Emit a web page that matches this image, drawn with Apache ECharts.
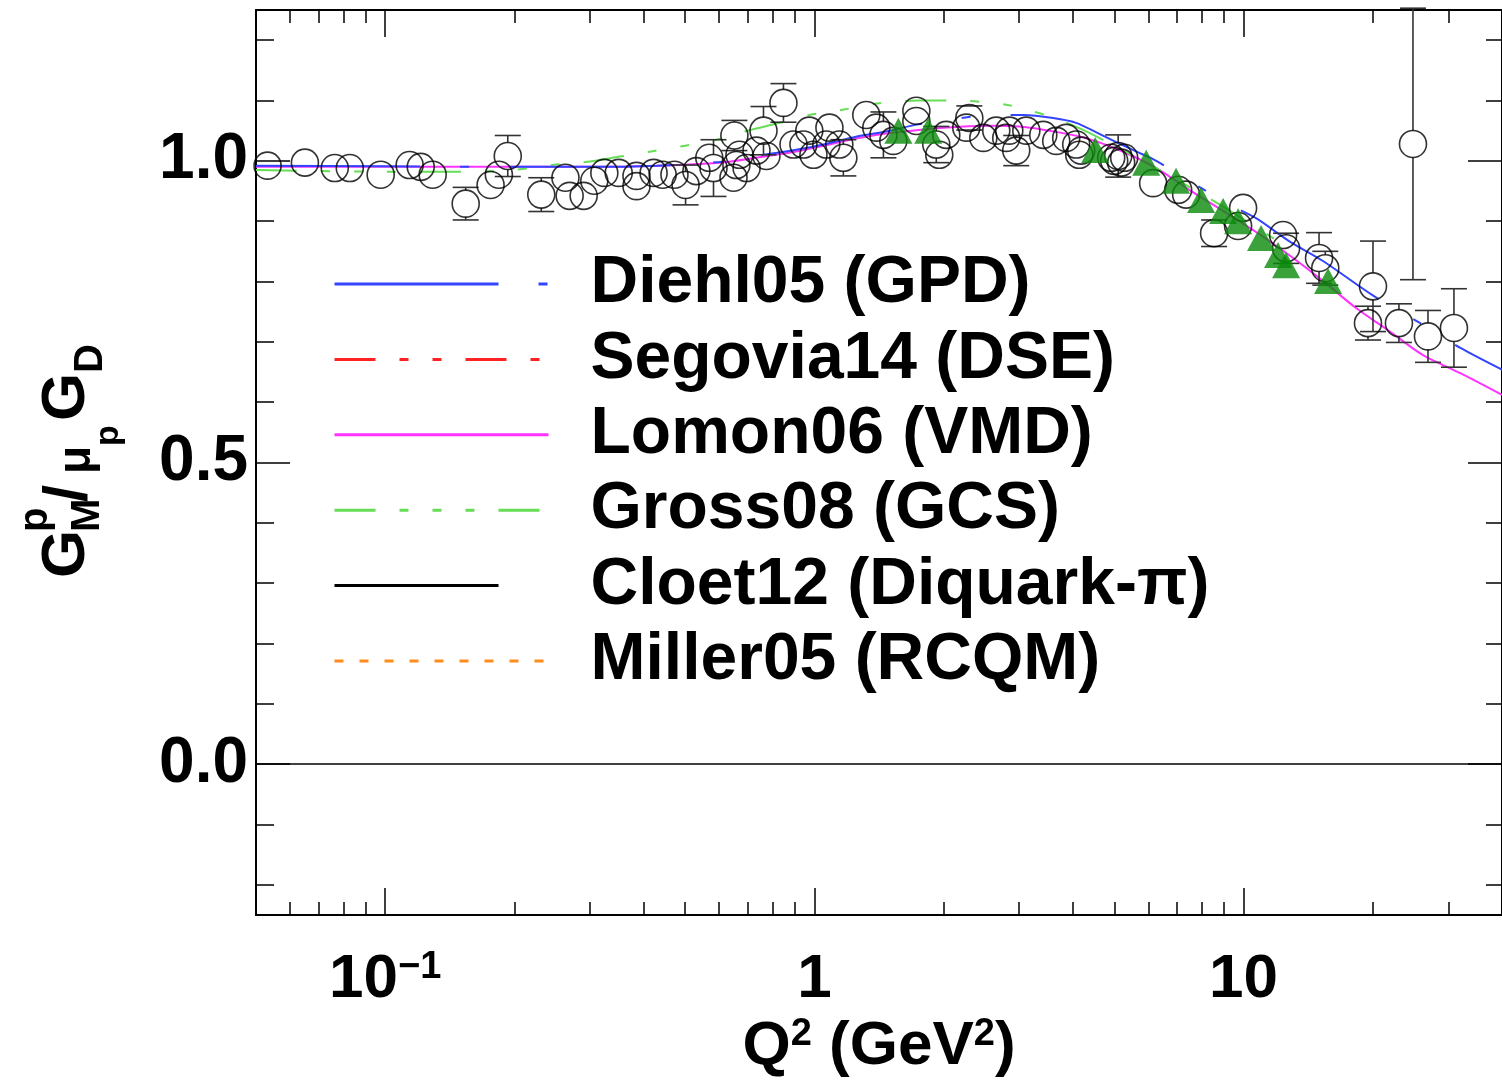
<!DOCTYPE html>
<html>
<head>
<meta charset="utf-8">
<script src="https://cdn.jsdelivr.net/npm/echarts@6/dist/echarts.min.js"></script>
<style>
  html, body { margin: 0; padding: 0; background: #fff; }
  #main { width: 1502px; height: 1089px; }
</style>
</head>
<body>
<div id="main"></div>
<script>
// proton magnetic form factor ratio GMp / (mu_p GD) vs Q^2 (GeV^2)

// world data (open circles)
const circleQ2 = [
  0.0532, 0.065, 0.0763, 0.0827, 0.0976, 0.114, 0.121, 0.129, 0.154, 0.176,
  0.184, 0.193, 0.231, 0.263, 0.269, 0.29, 0.307, 0.324, 0.35, 0.385,
  0.385, 0.422, 0.443, 0.472, 0.501, 0.531, 0.569, 0.582, 0.648, 0.651,
  0.658, 0.669, 0.695, 0.733, 0.761, 0.773, 0.847, 0.894, 0.943, 0.973,
  0.995, 1.066, 1.084, 1.143, 1.168, 1.321, 1.394, 1.448, 1.527, 1.728,
  1.728, 1.923, 1.954, 2.029, 2.259, 2.296, 2.475, 2.653, 2.799, 2.845,
  2.953, 3.117, 3.414, 3.66, 3.861, 4.074, 4.185, 4.14, 4.995, 5.103,
  6.155, 7.039, 7.347, 8.536, 9.71, 9.973, 12.36, 12.56, 14.99, 15.5,
  19.49, 20.02, 23.01, 24.81, 26.89, 30.91, 4.915, 5.185, 5.27
];
const circleRatio = [
  0.992, 0.997, 0.988, 0.988, 0.977, 0.993, 0.990, 0.977, 0.929, 0.960,
  0.977, 1.008, 0.944, 0.972, 0.942, 0.942, 0.967, 0.980, 0.980, 0.975,
  0.958, 0.980, 0.977, 0.977, 0.960, 0.983, 1.005, 0.988, 0.972, 1.042,
  0.993, 1.010, 0.988, 1.017, 1.050, 1.008, 1.096, 1.027, 1.027, 1.050,
  1.010, 1.027, 1.055, 1.027, 1.005, 1.076, 1.055, 1.043, 1.033, 1.083,
  1.066, 1.027, 1.010, 1.043, 1.055, 1.071, 1.038, 1.050, 1.038, 1.050,
  1.017, 1.050, 1.043, 1.033, 1.038, 1.027, 1.017, 1.010, 1.000, 1.008,
  0.963, 0.952, 0.944, 0.880, 0.892, 0.922, 0.877, 0.855, 0.839, 0.822,
  0.731, 0.792, 0.731, 1.028, 0.709, 0.723, 1.005, 0.997, 1.005
];
const circleErr = [
  0, 0, 0, 0, 0, 0, 0, 0, 0.027, 0,
  0, 0.034, 0.028, 0, 0, 0, 0, 0, 0, 0,
  0, 0, 0, 0, 0.033, 0, 0, 0.047, 0, 0.025,
  0, 0, 0, 0, 0.04, 0, 0.032, 0, 0, 0,
  0, 0, 0, 0, 0.03, 0, 0, 0.038, 0, 0,
  0, 0.03, 0, 0, 0, 0.02, 0, 0, 0, 0,
  0.025, 0, 0, 0, 0, 0, 0, 0, 0, 0.035,
  0, 0, 0, 0.022, 0, 0, 0, 0.025, 0.042, 0.028,
  0.028, 0.075, 0.032, 0.225, 0.043, 0.065, 0, 0, 0
];

// green triangles
const triQ2 = [1.569, 1.842, 4.51, 5.93, 6.96, 7.96, 8.96, 9.71, 10.98, 12.03, 12.56, 15.73];
const triRatio = [1.050, 1.050, 1.018, 0.997, 0.967, 0.935, 0.917, 0.900, 0.872, 0.844, 0.827, 0.801];

// model curves
const diehlQ2 = [0.05, 0.1, 0.2, 0.3, 0.43, 0.6, 0.73, 0.9, 1.05, 1.25, 1.5, 1.73, 2.14, 2.6, 3.07, 3.6, 4.07, 4.6, 5.05, 5.6, 6.26, 7.2, 8.18, 9.3, 10.69, 12.76, 15.31, 20, 26.2, 32, 40];
const diehlRatio = [0.992, 0.991, 0.990, 0.990, 0.992, 0.998, 1.008, 1.018, 1.027, 1.040, 1.050, 1.060, 1.070, 1.076, 1.076, 1.071, 1.063, 1.045, 1.031, 1.016, 1.000, 0.973, 0.950, 0.927, 0.905, 0.867, 0.834, 0.777, 0.728, 0.690, 0.654];
const lomonQ2 = [0.05, 0.1, 0.2, 0.3, 0.43, 0.6, 0.73, 0.9, 1.05, 1.25, 1.5, 2.0, 2.6, 3.0, 3.66, 4.37, 5.24, 6.26, 7.47, 8.96, 10.69, 12.76, 15.31, 18.28, 21.83, 26.18, 32, 40];
const lomonRatio = [0.990, 0.990, 0.990, 0.990, 0.992, 0.997, 1.005, 1.015, 1.025, 1.037, 1.046, 1.055, 1.058, 1.057, 1.048, 1.036, 1.015, 0.988, 0.952, 0.917, 0.882, 0.844, 0.801, 0.756, 0.718, 0.678, 0.648, 0.612];
const grossQ2 = [0.05, 0.1, 0.15, 0.2, 0.245, 0.293, 0.352, 0.42, 0.5, 0.59, 0.7, 0.83, 0.96, 1.17, 1.4, 1.75, 2.14, 2.8, 3.11, 3.6, 4.2, 5.0, 6.0, 7.0, 8.0, 10, 12];
const grossRatio = [0.985, 0.982, 0.982, 0.985, 0.993, 0.998, 1.007, 1.016, 1.025, 1.035, 1.050, 1.063, 1.075, 1.085, 1.095, 1.100, 1.100, 1.093, 1.085, 1.072, 1.052, 1.025, 0.995, 0.968, 0.945, 0.903, 0.867];

const legendNames = ['Diehl05 (GPD)', 'Segovia14 (DSE)', 'Lomon06 (VMD)', 'Gross08 (GCS)', 'Cloet12 (Diquark-\u03c0)', 'Miller05 (RCQM)'];

// ticks
const xMajorTicks = [0.1, 1, 10];
const xTickText = ['{b|10}{s|\u22121}', '{b|1}', '{b|10}'];
const xMinorTicks = [0.06, 0.07, 0.08, 0.09, 0.2, 0.3, 0.4, 0.5, 0.6, 0.7, 0.8, 0.9, 2, 3, 4, 5, 6, 7, 8, 9, 20, 30];
const yMajorTicks = [0, 0.5, 1.0];
const yTickText = ['0.0', '0.5', '1.0'];
const yMinorTicks = [-0.2, -0.1, 0.1, 0.2, 0.3, 0.4, 0.6, 0.7, 0.8, 0.9, 1.1, 1.2];

const FONT = 'Liberation Sans';
const pairs = (xs, ys) => xs.map((x, i) => [x, ys[i]]);

const chart = echarts.init(document.getElementById('main'), null, { renderer: 'canvas' });

function xAxisDef(pos, ticks, len, main) {
  return {
    type: 'log', logBase: 10, min: 0.05, max: 40, position: pos,
    axisLine: { show: main, onZero: false, lineStyle: { color: '#000', width: 2 } },
    axisTick: { show: true, inside: true, length: len, customValues: ticks, lineStyle: { color: '#000', width: 1.5 } },
    axisLabel: { show: false },
    splitLine: { show: false }
  };
}
function yAxisDef(pos, ticks, len, main) {
  return {
    type: 'value', min: -0.25, max: 1.25, position: pos,
    axisLine: { show: main, onZero: false, lineStyle: { color: '#000', width: 2 } },
    axisTick: { show: true, inside: true, length: len, customValues: ticks, lineStyle: { color: '#000', width: 1.5 } },
    axisLabel: { show: false },
    splitLine: { show: false }
  };
}

const bigRich = {
  b: { fontSize: 62, fontWeight: 'bold', fontFamily: FONT, color: '#000', lineHeight: 62 },
  s: { fontSize: 38, fontWeight: 'bold', fontFamily: FONT, color: '#000', verticalAlign: 'top', lineHeight: 40 }
};

const xBottom = xAxisDef('bottom', xMajorTicks, 27, true);
xBottom.axisLabel = {
  show: true,
  customValues: xMajorTicks,
  margin: 34,
  formatter: function (v) {
    let k = 0;
    xMajorTicks.forEach((t, i) => { if (Math.abs(Math.log10(t) - Math.log10(v)) < 0.01) k = i; });
    return xTickText[k];
  },
  rich: bigRich
};
xBottom.name = '{b|Q}{s|2}{b| (GeV}{s|2}{b|)}';
xBottom.nameLocation = 'middle';
xBottom.nameGap = 100;
xBottom.nameTextStyle = { rich: bigRich };

const yLeft = yAxisDef('left', yMajorTicks, 34, true);
yLeft.axisLabel = {
  show: true,
  customValues: yMajorTicks,
  margin: 8,
  fontSize: 64, fontWeight: 'bold', fontFamily: FONT, color: '#000',
  formatter: function (v) {
    let k = 0;
    yMajorTicks.forEach((t, i) => { if (Math.abs(t - v) < 1e-6) k = i; });
    return yTickText[k];
  }
};

// error bars, built through the axis scales
const errData = [];
circleQ2.forEach((q, i) => { if (circleErr[i] > 0) errData.push([q, circleRatio[i], circleErr[i]]); });

function renderErr(params, api) {
  const q = api.value(0), v = api.value(1), e = api.value(2);
  const hi = api.coord([q, v + e]);
  const lo = api.coord([q, v - e]);
  const c = api.coord([q, v]);
  const r = 13.5, cap = 13;
  const st = { stroke: '#333', lineWidth: 1.6 };
  const kids = [
    { type: 'line', shape: { x1: hi[0] - cap, y1: hi[1], x2: hi[0] + cap, y2: hi[1] }, style: st },
    { type: 'line', shape: { x1: lo[0] - cap, y1: lo[1], x2: lo[0] + cap, y2: lo[1] }, style: st }
  ];
  if (c[1] - hi[1] > r) kids.push({ type: 'line', shape: { x1: c[0], y1: hi[1], x2: c[0], y2: c[1] - r }, style: st });
  if (lo[1] - c[1] > r) kids.push({ type: 'line', shape: { x1: c[0], y1: c[1] + r, x2: c[0], y2: lo[1] }, style: st });
  return { type: 'group', children: kids };
}

function curve(name, color, data, dash, width, z) {
  return {
    name: name, type: 'line', data: data, color: color,
    symbol: 'none', showSymbol: false, smooth: 0.3, z: z || 2,
    lineStyle: { color: color, width: width || 2, type: dash },
    emphasis: { disabled: true }, silent: true
  };
}

const lomon = curve(legendNames[2], '#ff33ff', pairs(lomonQ2, lomonRatio), 'solid', 2);
lomon.markLine = {
  silent: true, symbol: 'none', label: { show: false },
  lineStyle: { color: '#000', width: 1.5, type: 'solid' },
  data: [{ yAxis: 0 }]
};

const option = {
  animation: false,
  backgroundColor: '#fff',
  grid: { left: 256, right: 0, top: 10, bottom: 174, containLabel: false },
  xAxis: [
    xBottom,
    xAxisDef('bottom', xMinorTicks, 13, false),
    xAxisDef('top', xMajorTicks, 27, true),
    xAxisDef('top', xMinorTicks, 13, false)
  ],
  yAxis: [
    yLeft,
    yAxisDef('left', yMinorTicks, 18, false),
    yAxisDef('right', yMajorTicks, 34, true),
    yAxisDef('right', yMinorTicks, 16, false)
  ],
  legend: {
    orient: 'vertical', left: 333, top: 251, padding: 0,
    itemWidth: 214, itemHeight: 14, itemGap: 9.4,
    selectedMode: false,
    data: legendNames,
    itemStyle: { opacity: 0, color: 'rgba(0,0,0,0)', borderWidth: 0 },
    lineStyle: { width: 3 },
    textStyle: { fontSize: 66, fontWeight: 'bold', fontFamily: FONT, color: '#000', lineHeight: 66, padding: [0, 0, 0, 37] }
  },
  graphic: [{
    type: 'group', x: 67, y: 578, rotation: Math.PI / 2,
    children: [
      { type: 'text', x: 0, y: 0, style: { text: 'G', font: 'bold 62px "Liberation Sans"', fill: '#000', textAlign: 'left', textVerticalAlign: 'middle' } },
      { type: 'text', x: 46, y: -31, style: { text: 'p', font: 'bold 40px "Liberation Sans"', fill: '#000', textAlign: 'left', textVerticalAlign: 'middle' } },
      { type: 'text', x: 46, y: 21, style: { text: 'M', font: 'bold 40px "Liberation Sans"', fill: '#000', textAlign: 'left', textVerticalAlign: 'middle' } },
      { type: 'text', x: 76, y: 2, style: { text: '/', font: 'bold 62px "Liberation Sans"', fill: '#000', textAlign: 'left', textVerticalAlign: 'middle' } },
      { type: 'text', x: 104, y: 10, style: { text: '\u03bc', font: 'bold 46px "Liberation Sans"', fill: '#000', textAlign: 'left', textVerticalAlign: 'middle' } },
      { type: 'text', x: 132, y: 42, style: { text: 'p', font: 'bold 34px "Liberation Sans"', fill: '#000', textAlign: 'left', textVerticalAlign: 'middle' } },
      { type: 'text', x: 157, y: 0, style: { text: 'G', font: 'bold 62px "Liberation Sans"', fill: '#000', textAlign: 'left', textVerticalAlign: 'middle' } },
      { type: 'text', x: 205, y: 24, style: { text: 'D', font: 'bold 40px "Liberation Sans"', fill: '#000', textAlign: 'left', textVerticalAlign: 'middle' } }
    ]
  }],
  series: [
    curve(legendNames[0], '#3344ff', pairs(diehlQ2, diehlRatio), [164, 40, 9, 40], 2, 3),
    curve(legendNames[1], '#ff2222', [], [41, 24, 9, 24, 9, 24], 2),
    lomon,
    curve(legendNames[3], '#66dd55', pairs(grossQ2, grossRatio), [41, 24, 9, 24, 9, 24, 9, 24], 2),
    curve(legendNames[4], '#000000', [], [164, 80], 3.5),
    curve(legendNames[5], '#ff8c1a', [], [9, 16], 3),
    {
      type: 'custom', name: 'err', data: errData, renderItem: renderErr,
      encode: { x: 0, y: 1 }, z: 4, silent: true
    },
    {
      type: 'scatter', name: 'data', data: pairs(circleQ2, circleRatio),
      symbol: 'circle', symbolSize: 27, z: 5, silent: true,
      itemStyle: { color: 'rgba(0,0,0,0)', borderColor: '#000', borderWidth: 1.6 }
    },
    {
      type: 'scatter', name: 'tri', data: pairs(triQ2, triRatio),
      symbol: 'triangle', symbolSize: [28, 26], z: 6, silent: true,
      itemStyle: { color: '#0a8a0a' }
    }
  ]
};

chart.setOption(option);
</script>
</body>
</html>
